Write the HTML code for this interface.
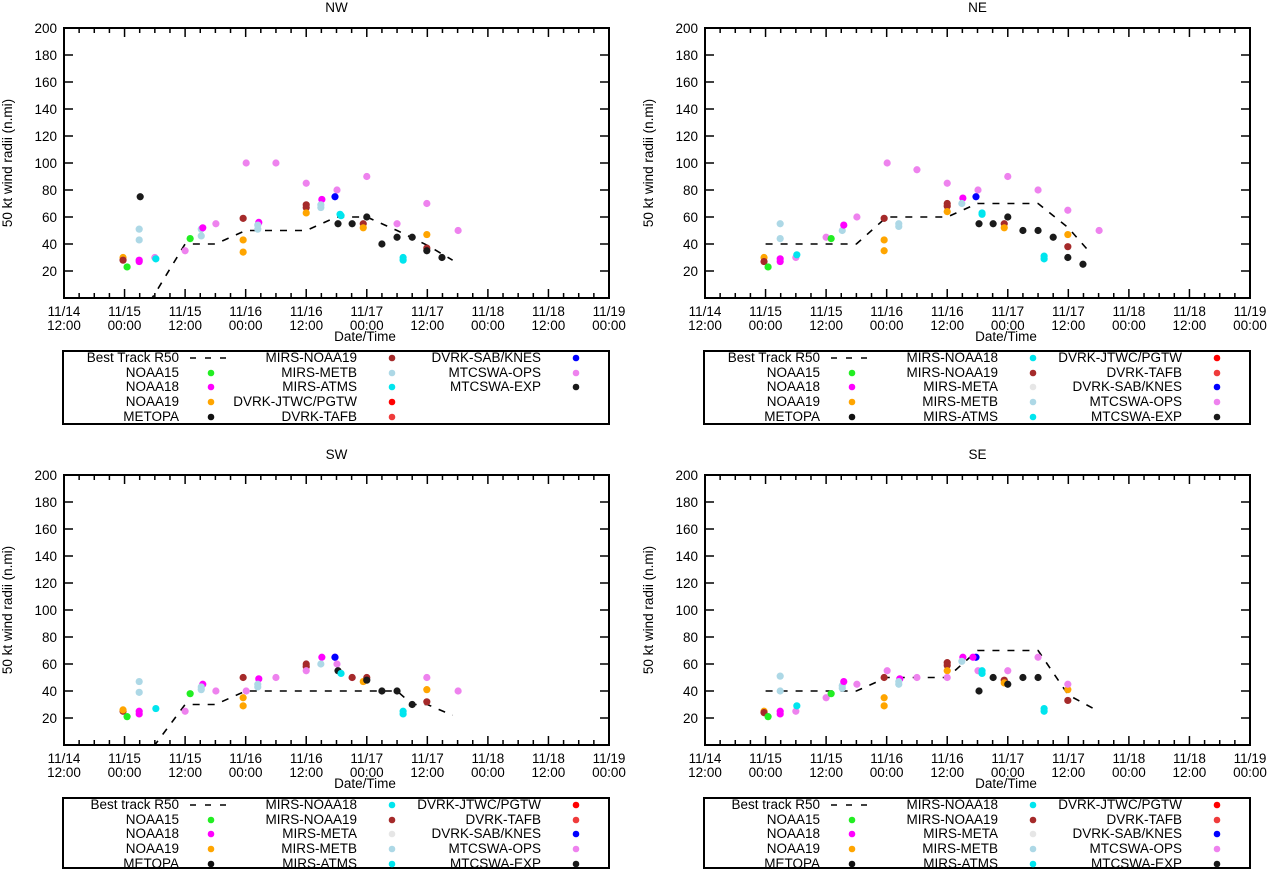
<!DOCTYPE html>
<html><head><meta charset="utf-8">
<style>
html,body{margin:0;padding:0;background:#fff;}
svg{display:block;font-family:"Liberation Sans",Arial,sans-serif;}
</style></head>
<body>
<svg id="chart" width="1267" height="871" viewBox="0 0 1267 871" xmlns="http://www.w3.org/2000/svg"></svg>
<script>
// ---- shared data ----
const xTickLabels1 = ["11/14","11/15","11/15","11/16","11/16","11/17","11/17","11/18","11/18","11/19"];
const xTickLabels2 = ["12:00","00:00","12:00","00:00","12:00","00:00","12:00","00:00","12:00","00:00"];
const yTicks = [20,40,60,80,100,120,140,160,180,200];
const seriesNames = ["NOAA15","NOAA18","NOAA19","METOPA","MIRS-NOAA18","MIRS-NOAA19","MIRS-META","MIRS-METB","MIRS-ATMS","DVRK-JTWC/PGTW","DVRK-TAFB","DVRK-SAB/KNES","MTCSWA-OPS","MTCSWA-EXP"];
const seriesColors = ["#22ee22","#ff00ff","#ffa500","#111111","#00e5ee","#a52a2a","#e6e6e6","#add8e6","#00e5ee","#ff0000","#ef3b3b","#0000ff","#ee82ee","#1a1a1a"];

// ---- NW ----
const nwBtHours = [12,18,24,30,36,42,48,54,60,66,72,77];
const nwBtValues = [-30,3,40,40,50,50,50,60,60,50,39,28];
const nwHours = [11.7,11.7,12.5,15.1,14.9,14.9,14.9,14.9,18.0,18.2,24.0,25.0,27.2,27.2,27.5,30.1,36.1,35.5,35.5,35.5,38.6,38.4,38.4,42.0,48.0,48.0,48.0,48.0,51.1,50.9,50.9,54.1,53.7,54.3,54.7,54.9,57.1,59.3,59.3,60.0,60.0,63.0,66.0,66.0,67.2,67.2,69.0,71.9,71.9,71.9,71.9,74.9,78.1];
const nwValues = [30,28,23,75,51,43,28,27,30,29,35,44,51,46,52,55,100,59,43,34,56,54,51,100,85,69,67,63,73,69,67,80,75,55,62,61,55,55,52,90,60,40,55,45,30,28,45,47,37,70,35,30,50];
const nwSeries = [2,5,0,13,7,7,1,1,12,8,12,0,7,7,1,12,12,5,2,2,1,7,7,12,12,5,5,2,1,7,7,12,11,13,8,8,13,5,2,12,13,13,12,13,8,8,13,2,5,12,13,13,12];

// ---- NE ----
const neBtHours = [12,18,24,30,36,42,48,54,60,66,72,76];
const neBtValues = [40,40,40,40,60,60,60,70,70,70,52,35];
const neHours = [11.7,11.7,12.5,14.9,14.9,14.9,14.9,18.0,18.2,24.0,25.0,27.2,27.5,30.1,35.5,35.5,35.5,36.1,38.4,38.4,42.0,48.0,48.0,48.0,48.0,51.1,50.9,54.1,53.7,54.3,54.9,54.9,57.1,59.3,59.3,60.0,60.0,63.0,66.0,66.0,67.2,67.2,69.0,71.9,71.9,71.9,71.9,74.9,78.1];
const neValues = [30,27,23,55,44,29,27,30,32,45,44,50,54,60,59,43,35,100,55,53,95,85,70,68,64,74,70,80,75,55,63,62,55,55,52,90,60,50,50,80,31,29,45,65,47,38,30,25,50];
const neSeries = [2,5,0,7,7,1,1,12,8,12,0,7,1,12,5,2,2,12,7,7,12,12,5,5,2,1,7,12,11,13,8,8,13,5,2,12,13,13,13,12,8,8,13,12,2,5,13,13,12];

// ---- SW ----
const swBtHours = [16,24,30,36,42,48,54,60,66,69,72,77];
const swBtValues = [-10,30,30,40,40,40,40,40,40,30,30,22];
const swHours = [11.7,11.7,12.5,14.9,14.9,14.9,14.9,18.2,24.0,25.0,27.2,27.5,27.2,30.1,35.5,35.5,35.5,36.1,38.6,38.4,38.4,42.0,48.0,48.0,48.0,51.1,50.9,53.7,53.7,54.1,54.3,54.9,57.1,57.1,59.3,60.0,60.0,63.0,66.0,67.2,67.2,69.0,71.9,71.9,71.9,78.1];
const swValues = [25,26,21,47,39,25,23,27,25,38,41,45,43,40,50,35,29,40,49,45,43,50,60,58,55,65,60,65,65,60,55,53,50,50,47,50,48,40,40,25,23,30,41,32,50,40];
const swSeries = [5,2,0,7,7,1,1,8,12,0,7,1,7,12,5,2,2,12,1,7,7,12,5,5,12,1,7,1,11,12,13,8,12,5,2,5,13,13,13,8,8,13,2,5,12,12];

// ---- SE ----
const seBtHours = [12,18,24,30,36,42,48,54,60,66,72,78];
const seBtValues = [40,40,40,40,50,50,50,70,70,70,37,25];
const seHours = [11.7,11.7,12.5,14.9,14.9,14.9,14.9,18.0,18.2,24.0,25.0,27.2,27.5,27.2,30.1,35.5,35.5,35.5,36.1,38.6,38.4,38.4,42.0,48.0,48.0,48.0,48.0,51.1,50.9,53.7,53.1,54.1,54.3,54.9,54.9,57.1,59.3,59.3,60.0,60.0,63.0,66.0,66.0,67.2,67.2,71.9,71.9,71.9];
const seValues = [25,24,21,51,40,25,23,25,29,35,38,44,47,42,45,50,35,29,55,49,47,45,50,61,59,55,50,65,62,65,65,55,40,55,53,50,48,46,55,45,50,50,65,27,25,41,33,45];
const seSeries = [2,5,0,7,7,1,1,12,8,12,0,7,1,7,12,5,2,2,12,1,7,7,12,5,5,2,12,1,7,11,1,12,13,8,8,13,5,2,12,13,13,13,12,8,8,2,5,12];

const legendA = [["Best Track R50",-1],["NOAA15",0],["NOAA18",1],["NOAA19",2],["METOPA",3],
  ["MIRS-NOAA19",5],["MIRS-METB",7],["MIRS-ATMS",8],["DVRK-JTWC/PGTW",9],["DVRK-TAFB",10],
  ["DVRK-SAB/KNES",11],["MTCSWA-OPS",12],["MTCSWA-EXP",13]];
function legendB(bt){return [[bt,-1],["NOAA15",0],["NOAA18",1],["NOAA19",2],["METOPA",3],
  ["MIRS-NOAA18",4],["MIRS-NOAA19",5],["MIRS-META",6],["MIRS-METB",7],["MIRS-ATMS",8],
  ["DVRK-JTWC/PGTW",9],["DVRK-TAFB",10],["DVRK-SAB/KNES",11],["MTCSWA-OPS",12],["MTCSWA-EXP",13]];}

const NS="http://www.w3.org/2000/svg";
const svg=document.getElementById('chart');
function mk(tag,attrs,parent,text){const e=document.createElementNS(NS,tag);for(const k in attrs)e.setAttribute(k,attrs[k]);if(text!==undefined)e.textContent=text;(parent||svg).appendChild(e);return e;}
const FS=13.5;

function panel(name,ox,oy,btH,btV,hours,values,series,legend,legendPrefix){
  const L=ox+64,R=ox+609,T=oy+28,B=oy+298;
  const xs=h=>L+h*(R-L)/108;
  const ys=v=>B-v*(B-T)/200;
  const g=mk('g',{});
  
  
  const t=mk('text',{x:(L+R)/2,y:oy+12,'text-anchor':'middle','font-size':FS},g,name);
  
  
  const yl=mk('text',{x:0,y:0,transform:`translate(${ox+12},${(T+B)/2}) rotate(-90)`,'text-anchor':'middle','font-size':FS},g,'50 kt wind radii (n.mi)');
  
  
  const xl=mk('text',{x:ox+365,y:oy+341,'text-anchor':'middle','font-size':FS},g,'Date/Time');
  
  
  for(let i=1;i<36;i++){
    const x=xs(i*3), len=(i%4===0)?9:5;
    mk('line',{x1:x,x2:x,y1:B,y2:B-len,stroke:'#000','stroke-width':1.5},g);
    mk('line',{x1:x,x2:x,y1:T,y2:T+len,stroke:'#000','stroke-width':1.5},g);
  }
  xTickLabels1.forEach((lab,i)=>{
    const x=xs(i*12);
    const a=mk('text',{x:x,y:B+18,'text-anchor':'middle','font-size':FS},g,lab);
    
    
    const b=mk('text',{x:x,y:B+32,'text-anchor':'middle','font-size':FS},g,xTickLabels2[i]);
    
    
  });
  yTicks.forEach(v=>{
    const y=ys(v);
    if(v<200){mk('line',{x1:L,x2:L+9,y1:y,y2:y,stroke:'#000','stroke-width':1.5},g);
      mk('line',{x1:R,x2:R-9,y1:y,y2:y,stroke:'#000','stroke-width':1.5},g);}
    const tl=mk('text',{x:L-7,y:y+5,'text-anchor':'end','font-size':FS},g,String(v));
    
    
  });
  const fr=mk('rect',{x:L,y:T,width:R-L,height:B-T,fill:'none',stroke:'#000','stroke-width':2},g);
  
  
  const cid='clip'+legendPrefix;
  const cp=mk('clipPath',{id:cid},g); mk('rect',{x:L,y:T,width:R-L,height:B-T},cp);
  let d='';btH.forEach((h,i)=>{d+=(i?'L':'M')+xs(h).toFixed(1)+' '+ys(btV[i]).toFixed(1);});
  const bt=mk('path',{d:d,fill:'none',stroke:'#000','stroke-width':1.6,'stroke-dasharray':'7,8','clip-path':`url(#${cid})`},g);
  
  
  hours.forEach((h,i)=>{
    const c=mk('circle',{cx:xs(h),cy:ys(values[i]),r:3.6,fill:seriesColors[series[i]]},g);
    
    
  });
  const ly=oy+351;
  const lg=mk('g',{},g);
  
  
  mk('rect',{x:ox+63,y:ly,width:546,height:oy===0?73:70,fill:'none',stroke:'#000','stroke-width':2},lg);
  const colText=[179,357,541],colDot=[211,392,576],rowY=[6,21,35,50,65];
  legend.forEach((it,i)=>{
    const col=Math.floor(i/5),row=i%5;
    const y=ly+rowY[row];
    const tx=mk('text',{x:ox+colText[col],y:y+5,'text-anchor':'end','font-size':FS},lg,it[0]);
    
    
    if(it[1]<0){mk('line',{x1:ox+190,x2:ox+230,y1:y+1,y2:y+1,stroke:'#000','stroke-width':1.6,'stroke-dasharray':'6,9'},lg);}
    else{mk('circle',{cx:ox+colDot[col],cy:y+1,r:3.3,fill:seriesColors[it[1]]},lg);}
  });
}
panel('NW',0,0,nwBtHours,nwBtValues,nwHours,nwValues,nwSeries,legendA,'nw');
panel('NE',641,0,neBtHours,neBtValues,neHours,neValues,neSeries,legendB('Best Track R50'),'ne');
panel('SW',0,447,swBtHours,swBtValues,swHours,swValues,swSeries,legendB('Best track R50'),'sw');
panel('SE',641,447,seBtHours,seBtValues,seHours,seValues,seSeries,legendB('Best track R50'),'se');
</script>
</body></html>
